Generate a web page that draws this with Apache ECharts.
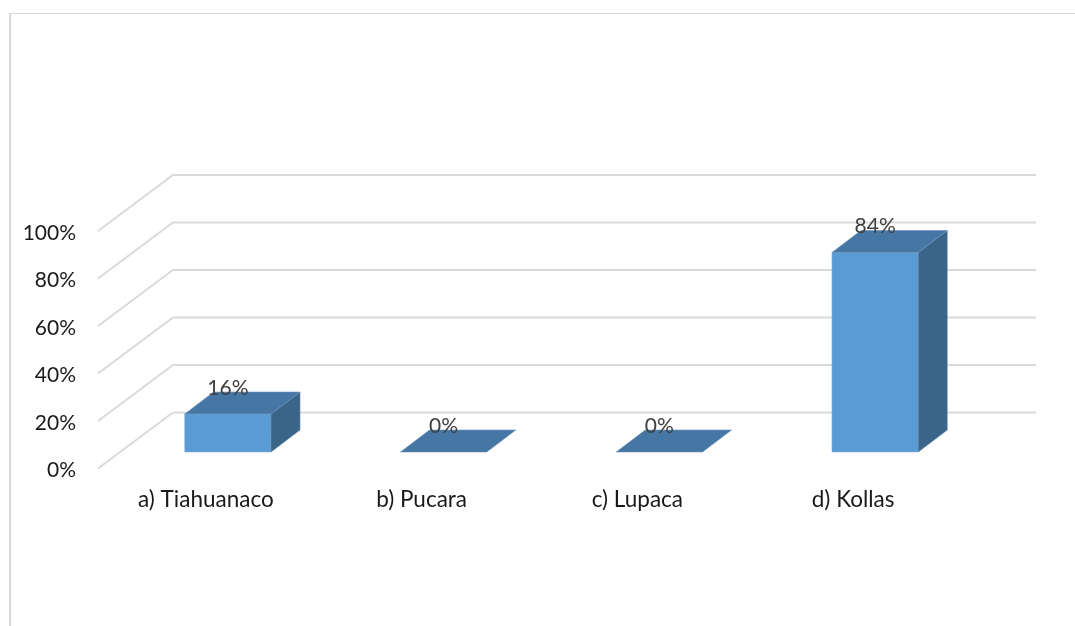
<!DOCTYPE html>
<html>
<head>
<meta charset="utf-8">
<style>html,body{margin:0;padding:0;background:#fff}#c{width:1075px;height:626px}</style>
<script src="https://cdn.jsdelivr.net/npm/echarts@6/dist/echarts.min.js"></script>
</head>
<body>
<div id="c"></div>
<script>
const categories = ['a) Tiahuanaco', 'b) Pucara', 'c) Lupaca', 'd) Kollas'];
const shares = [0.16, 0, 0, 0.84];
const yTicks = [0, 0.2, 0.4, 0.6, 0.8, 1];

const FONT = 'Lato';
const WALL = [75, -56];
const BAR_OFFSET = [22, -16.5];
const BAR_DEPTH = [29, -22];
const BAR_RATIO = 0.4;
const pct = v => Math.round(v * 100) + '%';

const chart = echarts.init(document.getElementById('c'), null, {renderer: 'canvas'});

function renderGrid(params, api) {
  const v = api.value(1);
  const band = api.size([1, 0])[0];
  const p = api.coord([0, v]);
  const x0 = p[0] - band / 2;
  const x1 = x0 + band * categories.length;
  return {
    type: 'polyline',
    shape: {points: [[x0, p[1]], [x0 + WALL[0], p[1] + WALL[1]], [x1 + WALL[0], p[1] + WALL[1]]]},
    style: {stroke: '#dadada', lineWidth: 2, fill: null}
  };
}

function renderBar(params, api) {
  const i = api.value(0);
  const v = api.value(1);
  const base = api.coord([i, 0]);
  const top = api.coord([i, v]);
  const w = api.size([1, 0])[0] * BAR_RATIO;
  const l = base[0] - w / 2 + BAR_OFFSET[0];
  const r = l + w;
  const yb = base[1] + BAR_OFFSET[1];
  const yt = top[1] + BAR_OFFSET[1];
  const dx = BAR_DEPTH[0], dy = BAR_DEPTH[1];
  const children = [];
  if (v > 0) {
    children.push({
      type: 'polygon',
      shape: {points: [[l, yb], [r, yb], [r, yt], [l, yt]]},
      style: {fill: '#5b9bd5', stroke: '#7fb0de', lineWidth: 0.6}
    });
    children.push({
      type: 'polygon',
      shape: {points: [[r, yb], [r + dx, yb + dy], [r + dx, yt + dy], [r, yt]]},
      style: {fill: '#3a6589', stroke: '#5f88ab', lineWidth: 0.6}
    });
  }
  children.push({
    type: 'polygon',
    shape: {points: [[l, yt], [r, yt], [r + dx, yt + dy], [l + dx, yt + dy]]},
    style: {fill: '#4676a4', stroke: '#6b94bb', lineWidth: 0.6}
  });
  children.push({
    type: 'text',
    style: {
      x: (l + r) / 2,
      y: yt + dy - 4,
      text: pct(v),
      fill: '#404040',
      font: '21px ' + FONT,
      align: 'center',
      verticalAlign: 'middle'
    }
  });
  return {type: 'group', children};
}

chart.setOption({
  animation: false,
  backgroundColor: '#ffffff',
  grid: {left: 98, right: 114, top: 231, bottom: 157.5, containLabel: false},
  xAxis: {
    type: 'category',
    data: categories,
    axisLine: {show: false},
    axisTick: {show: false},
    splitLine: {show: false},
    axisLabel: {color: '#1a1a1a', fontFamily: FONT, fontSize: 22.5, margin: 20}
  },
  yAxis: {
    type: 'value',
    min: 0,
    max: 1,
    interval: 0.2,
    axisLine: {show: false},
    axisTick: {show: false},
    splitLine: {show: false},
    axisLabel: {color: '#1a1a1a', fontFamily: FONT, fontSize: 21, margin: 22, verticalAlign: 'top', lineHeight: 4, formatter: pct}
  },
  series: [
    {
      type: 'custom',
      clip: false,
      silent: true,
      z: 1,
      renderItem: renderGrid,
      data: yTicks.map(t => [0, t])
    },
    {
      type: 'custom',
      clip: false,
      z: 2,
      renderItem: renderBar,
      data: shares.map((s, i) => [i, s])
    }
  ],
  graphic: [
    {type: 'line', silent: true, z: 0, shape: {x1: 9, y1: 13.5, x2: 1075, y2: 13.5}, style: {stroke: '#d9d9d9', lineWidth: 1.2}},
    {type: 'line', silent: true, z: 0, shape: {x1: 10, y1: 13.5, x2: 10, y2: 626}, style: {stroke: '#d9d9d9', lineWidth: 2}}
  ]
});
</script>
</body>
</html>
